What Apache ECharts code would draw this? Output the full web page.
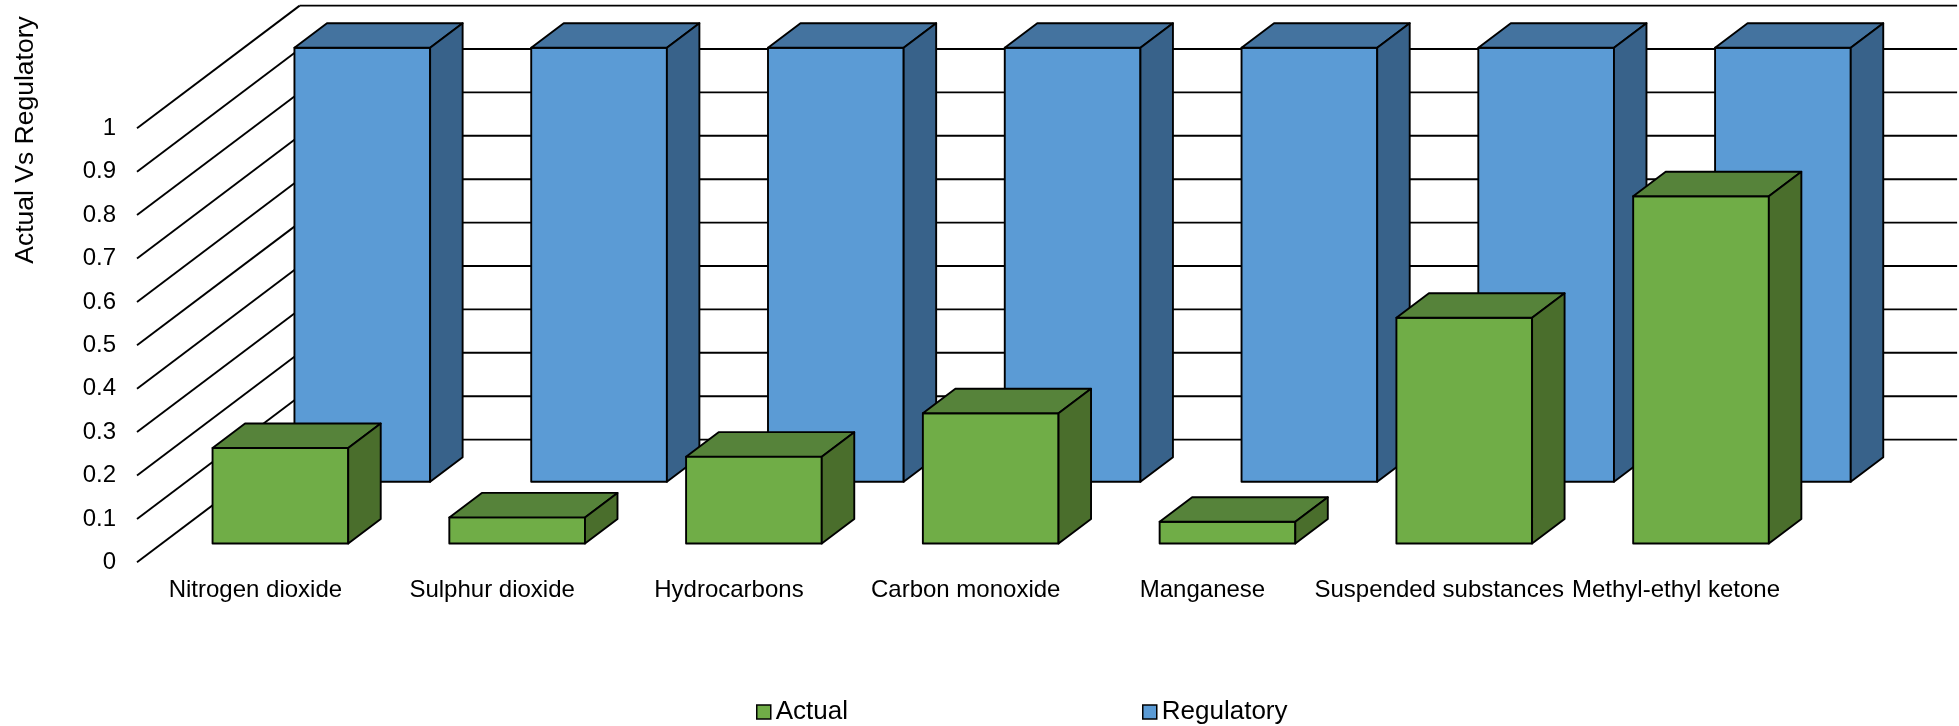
<!DOCTYPE html>
<html>
<head>
<meta charset="utf-8">
<script src="https://cdn.jsdelivr.net/npm/echarts@6/dist/echarts.min.js"></script>
<style>
  html, body { margin: 0; padding: 0; background: #fff; }
  #chart { width: 1959px; height: 726px; }
</style>
</head>
<body>
<div id="chart"></div>
<script>
// Pollutants measured against their regulatory limit (ratio).
const categories = [
  'Nitrogen dioxide', 'Sulphur dioxide', 'Hydrocarbons', 'Carbon monoxide',
  'Manganese', 'Suspended substances', 'Methyl-ethyl ketone'
];
const actualValues = [0.22, 0.06, 0.2, 0.3, 0.05, 0.52, 0.8];
const regulatoryValues = [1, 1, 1, 1, 1, 1, 1];
const wallTicks = [0, 0.1, 0.2, 0.3, 0.4, 0.5, 0.6, 0.7, 0.8, 0.9, 1];

// Oblique 3D projection: moving back by d pixels shifts a point (d, -d * SLOPE).
const SLOPE = 0.754;
const WALL_DEPTH = 162.7;      // back wall
const FRONT_ROW_DEPTH = 25;    // front face of the "Actual" row
const BACK_ROW_DEPTH = 106.9;  // front face of the "Regulatory" row
const BOX_DEPTH = 32.5;        // depth of each box
const BAR_RATIO = 0.573;       // box width / category band

const FONT = "'Liberation Sans', Arial, sans-serif";
const LINE = '#000';
const LINE_W = 1.9;

function renderWalls(params, api) {
  const cs = params.coordSys;
  const p = api.coord([0, api.value(1)]);
  const y = p[1];
  const x0 = cs.x, x1 = cs.x + cs.width;
  const yb = y - WALL_DEPTH * SLOPE;
  return {
    type: 'group',
    children: [
      { type: 'line', shape: { x1: x0, y1: y, x2: x0 + WALL_DEPTH, y2: yb },
        style: { stroke: LINE, lineWidth: LINE_W } },
      { type: 'line', shape: { x1: x0 + WALL_DEPTH, y1: yb, x2: x1 + WALL_DEPTH, y2: yb },
        style: { stroke: LINE, lineWidth: LINE_W } }
    ]
  };
}

function boxRenderer(rowDepth, colors) {
  return function (params, api) {
    const ci = api.value(0);
    const v = api.value(1);
    const base = api.coord([ci, 0]);
    const top = api.coord([ci, v]);
    const band = api.size([1, 0])[0];
    const w = band * BAR_RATIO;
    const xl = base[0] - w / 2 + rowDepth;
    const xr = xl + w;
    const yB = base[1] - rowDepth * SLOPE;
    const yT = top[1] - rowDepth * SLOPE;
    const dx = BOX_DEPTH, dy = -BOX_DEPTH * SLOPE;
    const edge = { stroke: LINE, lineWidth: LINE_W, lineJoin: 'round' };
    return {
      type: 'group',
      children: [
        { type: 'polygon', shape: { points: [[xl, yB], [xr, yB], [xr, yT], [xl, yT]] },
          style: Object.assign({ fill: colors.front }, edge) },
        { type: 'polygon', shape: { points: [[xl, yT], [xr, yT], [xr + dx, yT + dy], [xl + dx, yT + dy]] },
          style: Object.assign({ fill: colors.top }, edge) },
        { type: 'polygon', shape: { points: [[xr, yB], [xr + dx, yB + dy], [xr + dx, yT + dy], [xr, yT]] },
          style: Object.assign({ fill: colors.side }, edge) }
      ]
    };
  };
}

const green = { front: '#70AD47', top: '#56833A', side: '#4A6E2C' };
const blue = { front: '#5B9BD5', top: '#44739F', side: '#38628A' };

const chart = echarts.init(document.getElementById('chart'), null, { renderer: 'canvas' });
chart.setOption({
  backgroundColor: '#fff',
  animation: false,
  grid: { left: 137, right: 164.6, top: 128.3, bottom: 163.7, containLabel: false },
  legend: {
    data: [{ name: 'Actual', icon: 'rect' }, { name: 'Regulatory', icon: 'rect' }],
    left: 751, top: 694,
    itemWidth: 14, itemHeight: 14, itemGap: 294,
    selectedMode: false,
    itemStyle: { borderColor: '#000', borderWidth: 1.5 },
    textStyle: { fontFamily: FONT, fontSize: 26, color: '#000' }
  },
  xAxis: {
    type: 'category',
    data: categories,
    axisLine: { show: false },
    axisTick: { show: false },
    splitLine: { show: false },
    axisLabel: { interval: 0, hideOverlap: false, margin: 16,
      fontFamily: FONT, fontSize: 24, color: '#000' }
  },
  yAxis: {
    type: 'value', min: 0, max: 1, interval: 0.1,
    axisLine: { show: false },
    axisTick: { show: false },
    splitLine: { show: false },
    axisLabel: { margin: 21, fontFamily: FONT, fontSize: 24, color: '#000' }
  },
  graphic: [{
    type: 'text', x: 26, y: 140, rotation: Math.PI / 2,
    style: { text: 'Actual Vs Regulatory', fontFamily: FONT, fontSize: 26.5,
      fill: '#000', align: 'center', verticalAlign: 'middle' }
  }],
  series: [
    {
      name: 'walls', type: 'custom', z: 1, silent: true, clip: false,
      renderItem: renderWalls,
      data: wallTicks.map(v => [0, v])
    },
    {
      name: 'Regulatory', type: 'custom', z: 2, clip: false,
      itemStyle: { color: blue.front, borderColor: '#000', borderWidth: 1.5 },
      renderItem: boxRenderer(BACK_ROW_DEPTH, blue),
      data: regulatoryValues.map((v, i) => [i, v])
    },
    {
      name: 'Actual', type: 'custom', z: 3, clip: false,
      itemStyle: { color: green.front, borderColor: '#000', borderWidth: 1.5 },
      renderItem: boxRenderer(FRONT_ROW_DEPTH, green),
      data: actualValues.map((v, i) => [i, v])
    }
  ]
});
</script>
</body>
</html>
